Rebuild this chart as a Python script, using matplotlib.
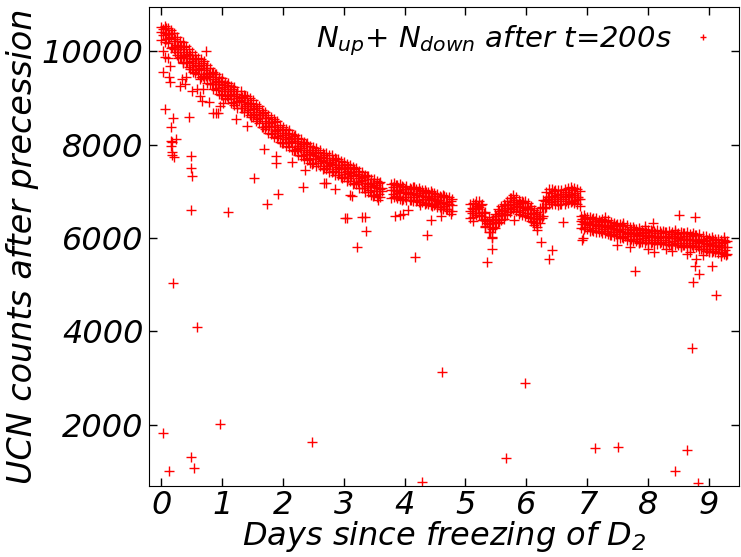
import numpy as np
import matplotlib
matplotlib.use('Agg')
import matplotlib.pyplot as plt

# main band, first run: days and upper / middle / lower part of the cloud
seg1_days = [0.00, 0.05, 0.10, 0.15, 0.20, 0.25, 0.30, 0.35, 0.40, 0.45,
             0.50, 0.55, 0.60, 0.65, 0.70, 0.75, 0.80, 0.85, 0.90, 0.95,
             1.00, 1.05, 1.10, 1.15, 1.20, 1.25, 1.30, 1.35, 1.40, 1.45,
             1.50, 1.55, 1.60, 1.65, 1.70, 1.75, 1.80, 1.85, 1.90, 1.95,
             2.00, 2.05, 2.10, 2.15, 2.20, 2.25, 2.30, 2.35, 2.40, 2.45,
             2.50, 2.55, 2.60, 2.65, 2.70, 2.75, 2.80, 2.85, 2.90, 2.95,
             3.00, 3.05, 3.10, 3.15, 3.20, 3.25, 3.30, 3.35, 3.40, 3.45,
             3.50, 3.55, 3.60]
seg1_hi = [10520, 10540, 10500, 10450, 10390, 10300, 10230, 10200, 10110, 10040,
           9990, 9930, 9860, 9830, 9790, 9700, 9650, 9560, 9520, 9450,
           9420, 9350, 9330, 9250, 9230, 9160, 9140, 9070, 9050, 8990,
           8960, 8880, 8830, 8750, 8700, 8630, 8600, 8540, 8510, 8420,
           8390, 8330, 8310, 8240, 8210, 8150, 8120, 8060, 8030, 7970,
           7950, 7920, 7880, 7830, 7820, 7770, 7770, 7720, 7700, 7660,
           7640, 7590, 7570, 7520, 7500, 7440, 7420, 7350, 7320, 7270,
           7260, 7230, 7200]
seg1_mid = [10420, 10400, 10370, 10300, 10220, 10130, 10050, 9980, 9920, 9860,
            9800, 9740, 9690, 9650, 9600, 9530, 9460, 9400, 9340, 9290,
            9240, 9190, 9140, 9090, 9040, 8990, 8950, 8910, 8870, 8830,
            8770, 8700, 8640, 8570, 8510, 8460, 8410, 8370, 8320, 8260,
            8210, 8170, 8130, 8080, 8030, 7980, 7930, 7890, 7850, 7810,
            7780, 7750, 7710, 7670, 7640, 7610, 7590, 7560, 7530, 7500,
            7470, 7430, 7400, 7360, 7320, 7280, 7240, 7190, 7150, 7110,
            7090, 7070, 7050]
seg1_lo = [10250, 10200, 10180, 10080, 10040, 9930, 9880, 9770, 9740, 9660,
           9620, 9530, 9510, 9450, 9420, 9330, 9290, 9200, 9170, 9090,
           9060, 8990, 8970, 8890, 8860, 8790, 8780, 8710, 8700, 8640,
           8590, 8500, 8470, 8370, 8340, 8260, 8240, 8170, 8150, 8060,
           8040, 7970, 7960, 7880, 7860, 7780, 7760, 7690, 7680, 7610,
           7610, 7550, 7540, 7470, 7470, 7410, 7420, 7360, 7360, 7300,
           7300, 7230, 7230, 7160, 7150, 7080, 7070, 6990, 6980, 6920,
           6920, 6880, 6880]
# readings in between the ones above
seg1_days_b = [0.025, 0.075, 0.125, 0.175, 0.225, 0.275, 0.325, 0.375, 0.425, 0.475,
               0.525, 0.575, 0.625, 0.675, 0.725, 0.775, 0.825, 0.875, 0.925, 0.975,
               1.025, 1.075, 1.125, 1.175, 1.225, 1.275, 1.325, 1.375, 1.425, 1.475,
               1.525, 1.575, 1.625, 1.675, 1.725, 1.775, 1.825, 1.875, 1.925, 1.975,
               2.025, 2.075, 2.125, 2.175, 2.225, 2.275, 2.325, 2.375, 2.425, 2.475,
               2.525, 2.575, 2.625, 2.675, 2.725, 2.775, 2.825, 2.875, 2.925, 2.975,
               3.025, 3.075, 3.125, 3.175, 3.225, 3.275, 3.325, 3.375, 3.425, 3.475,
               3.525, 3.575, 3.625]
seg1_up_b = [10470, 10495, 10375, 10390, 10255, 10110, 10115, 10100, 9940, 9920,
             9830, 9825, 9710, 9755, 9645, 9515, 9530, 9520, 9365, 9355,
             9275, 9275, 9155, 9195, 9095, 8990, 9030, 9040, 8900, 8890,
             8795, 8780, 8645, 8670, 8565, 8455, 8490, 8495, 8340, 8325,
             8250, 8260, 8145, 8185, 8085, 7975, 8010, 8020, 7880, 7885,
             7825, 7840, 7730, 7785, 7705, 7620, 7675, 7695, 7565, 7575,
             7510, 7525, 7420, 7470, 7380, 7280, 7315, 7320, 7180, 7190,
             7140, 7170, 7080]
seg1_dn_b = [10340, 10265, 10295, 10100, 10085, 10060, 9875, 9890, 9780, 9630,
             9700, 9595, 9630, 9465, 9475, 9465, 9290, 9310, 9205, 9065,
             9145, 9045, 9075, 8905, 8925, 8940, 8790, 8830, 8740, 8600,
             8665, 8550, 8565, 8380, 8395, 8405, 8250, 8285, 8180, 8035,
             8120, 8030, 8065, 7895, 7915, 7925, 7770, 7810, 7720, 7595,
             7695, 7610, 7650, 7495, 7535, 7570, 7435, 7485, 7405, 7285,
             7380, 7295, 7340, 7180, 7210, 7230, 7075, 7110, 7020, 6900,
             7010, 6940, 7000]

# second run
seg2_days = [3.78, 3.83, 3.88, 3.93, 3.98, 4.03, 4.08, 4.13, 4.18, 4.23,
             4.28, 4.33, 4.38, 4.43, 4.48, 4.53, 4.58, 4.63, 4.68, 4.73, 4.78]
seg2_hi = [7150, 7180, 7130, 7150, 7100, 7120, 7080, 7100, 7060, 7070,
           7030, 7040, 6990, 7000, 6960, 6950, 6900, 6920, 6870, 6880, 6830]
seg2_mid = [7020, 7030, 7010, 6990, 6980, 6970, 6960, 6950, 6930, 6920,
            6910, 6890, 6870, 6850, 6830, 6800, 6780, 6760, 6740, 6720, 6700]
seg2_lo = [6850, 6880, 6860, 6830, 6840, 6810, 6820, 6790, 6800, 6770,
           6770, 6740, 6740, 6710, 6700, 6670, 6660, 6630, 6620, 6590, 6590]
seg2_days_b = [3.805, 3.855, 3.905, 3.955, 4.005, 4.055, 4.105, 4.155, 4.205, 4.255,
               4.305, 4.355, 4.405, 4.455, 4.505, 4.555, 4.605, 4.655, 4.705, 4.755]
seg2_up_b = [7085, 7130, 7040, 7115, 7055, 6985, 7055, 7090, 6975, 7005,
             6960, 6990, 6900, 6970, 6895, 6810, 6870, 6900, 6780, 6800]
seg2_dn_b = [6955, 6900, 6960, 6825, 6885, 6935, 6815, 6880, 6815, 6715,
             6830, 6760, 6820, 6680, 6725, 6760, 6630, 6690, 6620, 6510]

# third run
seg3_days = [5.08, 5.13, 5.18, 5.23, 5.28, 5.33, 5.38, 5.43, 5.48, 5.53,
             5.58, 5.63, 5.68, 5.73, 5.78, 5.83, 5.88, 5.93, 5.98, 6.03,
             6.08, 6.13, 6.18, 6.23, 6.28, 6.33, 6.38, 6.43, 6.48, 6.53,
             6.58, 6.63, 6.68, 6.73, 6.78, 6.83, 6.88]
seg3_hi = [6720, 6760, 6790, 6800, 6720, 6560, 6450, 6380, 6520, 6620,
           6680, 6720, 6800, 6860, 6920, 6880, 6820, 6800, 6790, 6760,
           6680, 6600, 6560, 6640, 6820, 6980, 7050, 7060, 7030, 7020,
           7040, 7060, 7080, 7100, 7080, 7050, 7000]
seg3_mid = [6580, 6620, 6650, 6660, 6550, 6400, 6300, 6200, 6380, 6480,
            6530, 6570, 6650, 6720, 6780, 6730, 6680, 6660, 6640, 6620,
            6520, 6440, 6400, 6480, 6650, 6820, 6880, 6900, 6890, 6870,
            6880, 6900, 6910, 6930, 6920, 6880, 6840]
seg3_lo = [6420, 6460, 6500, 6500, 6380, 6230, 6130, 6020, 6220, 6330,
           6380, 6410, 6500, 6560, 6620, 6580, 6520, 6500, 6480, 6460,
           6360, 6270, 6230, 6320, 6480, 6660, 6720, 6740, 6730, 6710,
           6720, 6740, 6750, 6770, 6760, 6720, 6690]
seg3_days_b = [5.105, 5.155, 5.205, 5.255, 5.305, 5.355, 5.405, 5.455, 5.505, 5.555,
               5.605, 5.655, 5.705, 5.755, 5.805, 5.855, 5.905, 5.955, 6.005, 6.055,
               6.105, 6.155, 6.205, 6.255, 6.305, 6.355, 6.405, 6.455, 6.505, 6.555,
               6.605, 6.655, 6.705, 6.755, 6.805, 6.855]
seg3_up_b = [6650, 6725, 6685, 6715, 6545, 6370, 6330, 6410, 6470, 6575,
             6600, 6700, 6715, 6860, 6825, 6725, 6750, 6770, 6670, 6640,
             6530, 6510, 6470, 6675, 6805, 6870, 6970, 7015, 6920, 6945,
             6940, 6995, 6950, 7035, 6970, 6880]
seg3_dn_b = [6540, 6535, 6625, 6475, 6395, 6330, 6140, 6240, 6340, 6355,
             6490, 6510, 6655, 6620, 6675, 6685, 6560, 6600, 6540, 6420,
             6420, 6320, 6410, 6435, 6655, 6830, 6780, 6845, 6790, 6725,
             6830, 6805, 6890, 6795, 6820, 6840]

# fourth run
seg4_days = [6.90, 6.95, 7.00, 7.05, 7.10, 7.15, 7.20, 7.25, 7.30, 7.35,
             7.40, 7.45, 7.50, 7.55, 7.60, 7.65, 7.70, 7.75, 7.80, 7.85,
             7.90, 7.95, 8.00, 8.05, 8.10, 8.15, 8.20, 8.25, 8.30, 8.35,
             8.40, 8.45, 8.50, 8.55, 8.60, 8.65, 8.70, 8.75, 8.80, 8.85,
             8.90, 8.95, 9.00, 9.05, 9.10, 9.15, 9.20, 9.25, 9.30]
seg4_hi = [6480, 6500, 6460, 6450, 6420, 6440, 6390, 6400, 6370, 6380,
           6340, 6330, 6310, 6300, 6270, 6270, 6230, 6240, 6200, 6220,
           6180, 6190, 6170, 6180, 6160, 6170, 6150, 6160, 6140, 6150,
           6130, 6140, 6120, 6130, 6110, 6130, 6090, 6100, 6070, 6080,
           6040, 6050, 6010, 6030, 5990, 5990, 5960, 5970, 5940]
seg4_mid = [6360, 6350, 6330, 6310, 6300, 6290, 6270, 6260, 6240, 6230,
            6210, 6190, 6180, 6160, 6140, 6120, 6100, 6090, 6080, 6070,
            6060, 6050, 6050, 6040, 6040, 6030, 6030, 6020, 6020, 6010,
            6010, 6000, 6000, 5990, 5990, 5980, 5960, 5950, 5940, 5920,
            5900, 5880, 5870, 5860, 5850, 5830, 5820, 5810, 5800]
seg4_lo = [6220, 6200, 6190, 6160, 6160, 6140, 6130, 6110, 6100, 6080,
           6070, 6040, 6040, 6010, 6000, 5970, 5970, 5940, 5940, 5920,
           5920, 5900, 5900, 5890, 5900, 5880, 5890, 5870, 5880, 5860,
           5870, 5850, 5860, 5840, 5850, 5830, 5820, 5800, 5800, 5770,
           5760, 5730, 5730, 5710, 5710, 5680, 5680, 5660, 5670]
seg4_days_b = [6.925, 6.975, 7.025, 7.075, 7.125, 7.175, 7.225, 7.275, 7.325, 7.375,
               7.425, 7.475, 7.525, 7.575, 7.625, 7.675, 7.725, 7.775, 7.825, 7.875,
               7.925, 7.975, 8.025, 8.075, 8.125, 8.175, 8.225, 8.275, 8.325, 8.375,
               8.425, 8.475, 8.525, 8.575, 8.625, 8.675, 8.725, 8.775, 8.825, 8.875,
               8.925, 8.975, 9.025, 9.075, 9.125, 9.175, 9.225, 9.275]
seg4_up_b = [6405, 6430, 6350, 6415, 6365, 6300, 6345, 6370, 6275, 6290,
             6250, 6275, 6200, 6260, 6200, 6130, 6175, 6205, 6115, 6135,
             6105, 6140, 6075, 6150, 6105, 6050, 6105, 6140, 6055, 6080,
             6055, 6090, 6025, 6100, 6055, 5990, 6035, 6065, 5970, 5980,
             5940, 5965, 5895, 5965, 5910, 5845, 5895, 5925]
seg4_dn_b = [6295, 6240, 6290, 6175, 6215, 6260, 6155, 6200, 6145, 6070,
             6140, 6085, 6140, 6020, 6050, 6090, 5985, 6035, 5985, 5915,
             5995, 5950, 6015, 5910, 5955, 6010, 5915, 5970, 5925, 5860,
             5945, 5900, 5965, 5860, 5905, 5950, 5845, 5895, 5840, 5760,
             5830, 5775, 5835, 5725, 5760, 5805, 5705, 5755]

# stray points around the band and far outliers
stray_days = [0.03, 0.13, 0.14, 0.05, 0.19, 0.15, 0.16, 0.17, 0.24, 0.16,
              0.17, 0.18, 0.20, 0.45, 0.49, 0.48, 0.51, 0.49, 1.09, 0.19,
              0.59, 0.74, 0.30, 0.51, 0.63, 0.67, 0.90, 0.93, 0.03, 0.05,
              0.10, 0.22, 0.14, 0.27, 0.36, 0.41, 0.33, 0.38, 0.52, 0.63,
              0.58, 0.68, 0.79, 0.85, 0.96, 1.01,
              1.52, 1.69, 1.88, 1.74, 1.92, 2.14, 2.32, 2.36, 2.71, 2.85,
              3.10, 3.13, 3.02, 3.05, 3.30, 3.34, 3.37, 3.22, 1.40, 1.23,
              1.89, 2.68, 3.56,
              3.84, 3.92, 3.97, 4.43, 4.37, 4.17, 4.60, 4.05,
              5.13, 5.32, 5.43, 5.43, 5.35, 5.80, 6.17, 6.11, 6.24, 6.42,
              6.38, 6.61,
              6.91, 6.93, 7.79, 8.09, 8.52, 8.77, 8.75, 8.85, 9.06, 8.77,
              7.50, 7.70, 7.85, 8.00, 8.10, 8.30, 8.40, 8.55, 8.65, 8.70,
              8.80, 8.90, 9.00, 9.20, 9.28, 7.30, 7.60, 7.95, 8.45, 9.25,
              9.12, 0.02, 0.13, 0.49, 0.53, 0.96, 2.47, 4.28, 4.62, 5.66,
              5.98, 7.13, 7.51, 8.45, 8.65, 8.72, 8.82]
stray_counts = [9550, 9440, 9335, 8760, 8565, 8370, 8080, 8050, 8120, 7980,
                7850, 7770, 7730, 8600, 7765, 7500, 7320, 6610, 6566, 5030,
                4100, 10010, 9260, 9155, 9050, 8930, 8680, 8680, 10010, 9870,
                9860, 9980, 9690, 9850, 9760, 9440, 9400, 9300, 9550, 9400,
                9190, 9190, 8910, 8680, 8830, 8900,
                7280, 7900, 7610, 6720, 6950, 7635, 7100, 7460, 7180, 7050,
                6920, 6910, 6440, 6420, 6450, 6450, 6150, 5820, 8400, 8540,
                7760, 7170, 6820,
                6480, 6500, 6510, 6390, 6070, 5590, 6480, 6600,
                6360, 6260, 6000, 5760, 5480, 6390, 6180, 6350, 5925, 5745,
                5555, 6350,
                5960, 6000, 5300, 6320, 6500, 6445, 5070, 5225, 5400, 5400,
                5850, 5800, 5900, 5760, 5700, 5760, 5730, 5800, 5650, 5700,
                5550, 5640, 5700, 5620, 5640, 6450, 6330, 6250, 6180, 6030,
                4780, 1830, 1022, 1321, 1086, 2020, 1643, 780, 3140, 1287,
                2900, 1501, 1536, 1022, 1465, 3650, 752]

plt.rcParams['font.family'] = 'DejaVu Sans'
plt.rcParams['font.style'] = 'italic'
plt.rcParams['mathtext.fontset'] = 'dejavusans'

days = np.concatenate([seg1_days, seg1_days, seg1_days, seg1_days_b, seg1_days_b,
                       seg2_days, seg2_days, seg2_days, seg2_days_b, seg2_days_b,
                       seg3_days, seg3_days, seg3_days, seg3_days_b, seg3_days_b,
                       seg4_days, seg4_days, seg4_days, seg4_days_b, seg4_days_b,
                       stray_days])
counts = np.concatenate([seg1_hi, seg1_mid, seg1_lo, seg1_up_b, seg1_dn_b,
                         seg2_hi, seg2_mid, seg2_lo, seg2_up_b, seg2_dn_b,
                         seg3_hi, seg3_mid, seg3_lo, seg3_up_b, seg3_dn_b,
                         seg4_hi, seg4_mid, seg4_lo, seg4_up_b, seg4_dn_b,
                         stray_counts])

fig = plt.figure(figsize=(7.41, 5.57), dpi=100)
ax = fig.add_axes([0.2015, 0.1282, 0.7958, 0.8593])

ax.plot(days, counts, linestyle='none', marker='+', color='red',
        markersize=7, markeredgewidth=1.0,
        label=r'$N_{up}$+ $N_{down}$ after t=200s')

ax.set_xlim(-0.2, 9.5)
ax.set_ylim(700, 10950)
ax.set_xticks(range(10))
ax.set_yticks([2000, 4000, 6000, 8000, 10000])
ax.tick_params(direction='in', length=6, width=1, top=True, right=True,
               labelsize=23, pad=4)
ax.tick_params(axis='x', pad=3)
ax.set_xlabel(r'Days since freezing of $D_2$', fontsize=23, labelpad=-1)
ax.set_ylabel('UCN counts after precession', fontsize=24, labelpad=2)

ax.legend(loc='upper right', bbox_to_anchor=(0.9915, 0.9937), frameon=False,
          markerfirst=False, fontsize=21, markerscale=0.7, handlelength=1.2,
          handletextpad=0.5, borderaxespad=0.05)

fig.savefig('out.png', dpi=100)
